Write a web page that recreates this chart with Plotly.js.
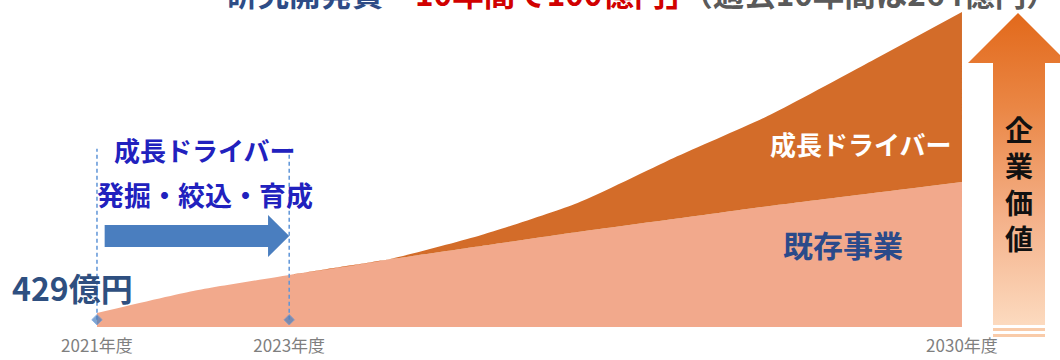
<!DOCTYPE html>
<html>
<head>
<meta charset="utf-8">
<script src="https://cdn.plot.ly/plotly-3.0.1.min.js"></script>
<style>
  html, body { margin: 0; padding: 0; background: #ffffff; }
  #chart { width: 1060px; height: 360px; }
</style>
</head>
<body>
<div id="chart"></div>
<script>
// ---- data (schematic values) ----
const years = [2021, 2022, 2023, 2024, 2025, 2026, 2027, 2028, 2029, 2030];
const existingBiz = [429, 539, 619, 694, 764, 834, 899, 964, 1024, 1084];
const totalWithDrivers = [429, 539, 619, 694, 819, 979, 1204, 1419, 1674, 1934];
const tickYears = [2021, 2023, 2030];
const tickLabels = ['2021年度', '2023年度', '2030年度'];
const driverPeriod = [2021, 2023];
const startLabel = '429億円';
const seriesNames = ['既存事業', '成長ドライバー'];

const FONT = '"Noto Sans CJK JP", "Noto Sans", sans-serif';
const C_BASE = '#F2A98C';
const C_GROW = '#D36C29';
const C_BLUE_ARROW = '#4A7EBF';
const C_DASH = '#5F95D8';

const plotH = 327;

const traces = [
  {
    x: years, y: existingBiz, name: seriesNames[0],
    type: 'scatter', mode: 'lines', fill: 'tozeroy',
    fillcolor: C_BASE, line: {color: C_BASE, width: 0, shape: 'spline', smoothing: 0.6},
    hoverinfo: 'skip'
  },
  {
    x: years, y: totalWithDrivers, name: seriesNames[1],
    type: 'scatter', mode: 'lines', fill: 'tonexty',
    fillcolor: C_GROW, line: {color: C_GROW, width: 0, shape: 'spline', smoothing: 0.6},
    hoverinfo: 'skip'
  }
];

// dashed period markers (on an overlay 0..1 axis)
driverPeriod.forEach(function (yr) {
  traces.push({
    x: [yr, yr], y: [0.022, 0.545], yaxis: 'y2',
    type: 'scatter', mode: 'lines+markers',
    line: {color: C_DASH, width: 1.5, dash: '4px,3px'},
    marker: {symbol: 'diamond', size: [8, 0], color: C_BLUE_ARROW},
    hoverinfo: 'skip'
  });
});

// blue arrow across the driver period
const ax0 = driverPeriod[0] + 0.08, axt = driverPeriod[1], axh = axt - 0.22;
const py = function (p) { return (plotH - p) / plotH; };
const px = function (p) { return p / 1060; };
const arrowPath = 'M' + ax0 + ',' + py(225) + ' L' + axh + ',' + py(225) + ' L' + axh + ',' + py(215) +
  ' L' + axt + ',' + py(236) + ' L' + axh + ',' + py(257) + ' L' + axh + ',' + py(247) +
  ' L' + ax0 + ',' + py(247) + ' Z';

// right gradient arrow as svg image
const arrowSvg =
  '<svg xmlns="http://www.w3.org/2000/svg" width="110" height="340" viewBox="0 0 110 340" preserveAspectRatio="none">' +
  '<defs><linearGradient id="g" gradientUnits="userSpaceOnUse" x1="0" y1="13" x2="0" y2="325">' +
  '<stop offset="0" stop-color="#E2691B"/><stop offset="0.3" stop-color="#EA8644"/>' +
  '<stop offset="0.65" stop-color="#F4B088"/><stop offset="1" stop-color="#FCDABF"/></linearGradient></defs>' +
  '<polygon points="58,13 8,63 108,63" fill="url(#g)"/>' +
  '<rect x="33" y="62" width="52" height="263" fill="url(#g)"/>' +
  '<rect x="33" y="328" width="52" height="3" fill="#F9CBA9"/>' +
  '<rect x="33" y="334" width="52" height="3" fill="#F9CBA9"/>' +
  '</svg>';
const arrowSrc = 'data:image/svg+xml;charset=utf-8,' + encodeURIComponent(arrowSvg);

function label(x, y, text, size, color) {
  return {xref: 'paper', yref: 'paper', x: px(x), y: py(y), xanchor: 'center', yanchor: 'middle',
          showarrow: false, text: '<b>' + text + '</b>', font: {family: FONT, size: size, color: color}};
}

const layout = {
  width: 1060, height: 360,
  margin: {l: 0, r: 0, t: 0, b: 33},
  paper_bgcolor: '#ffffff', plot_bgcolor: '#ffffff',
  showlegend: false,
  font: {family: FONT},
  xaxis: {
    range: [2019.991, 2031.02],
    tickvals: tickYears, ticktext: tickLabels,
    showgrid: false, zeroline: false, showline: false, ticks: '',
    ticklabelstandoff: 7,
    tickfont: {family: FONT, size: 17, color: '#7F7F7F'},
    fixedrange: true
  },
  yaxis: {
    range: [359, 1994], visible: false, showgrid: false, zeroline: false, fixedrange: true
  },
  yaxis2: {
    range: [0, 1], overlaying: 'y', visible: false, showgrid: false, zeroline: false
  },
  shapes: [
    {type: 'path', xref: 'x', yref: 'paper', path: arrowPath, fillcolor: C_BLUE_ARROW, line: {width: 0}}
  ],
  images: [
    {source: arrowSrc, xref: 'paper', yref: 'paper', x: px(960), y: 1, sizex: 110 / 1060, sizey: 340 / plotH,
     xanchor: 'left', yanchor: 'top', sizing: 'stretch', layer: 'above'}
  ],
  annotations: [
    {xref: 'paper', yref: 'paper', x: px(642), y: 1, xanchor: 'center', yanchor: 'bottom', yshift: -17, showarrow: false,
     text: '<b><span style="color:#2E4C86">研究開発費</span><span style="color:#D10000">「10年間で100億円」</span><span style="color:#5A5A5A">（過去10年間は264億円）</span></b>',
     font: {family: FONT, size: 31.5}},
    label(204, 149, '成長ドライバー', 26, '#2121BE'),
    label(205, 194, '発掘・絞込・育成', 27, '#2121BE'),
    label(72, 287, startLabel, 32, '#2E4F80'),
    label(860, 143, seriesNames[1], 26, '#ffffff'),
    label(843, 244, seriesNames[0], 30, '#2B4A8A'),
    label(1019, 183, '企<br>業<br>価<br>値', 28, '#111111')
  ]
};

Plotly.newPlot('chart', traces, layout, {displayModeBar: false, staticPlot: true});
</script>
</body>
</html>
